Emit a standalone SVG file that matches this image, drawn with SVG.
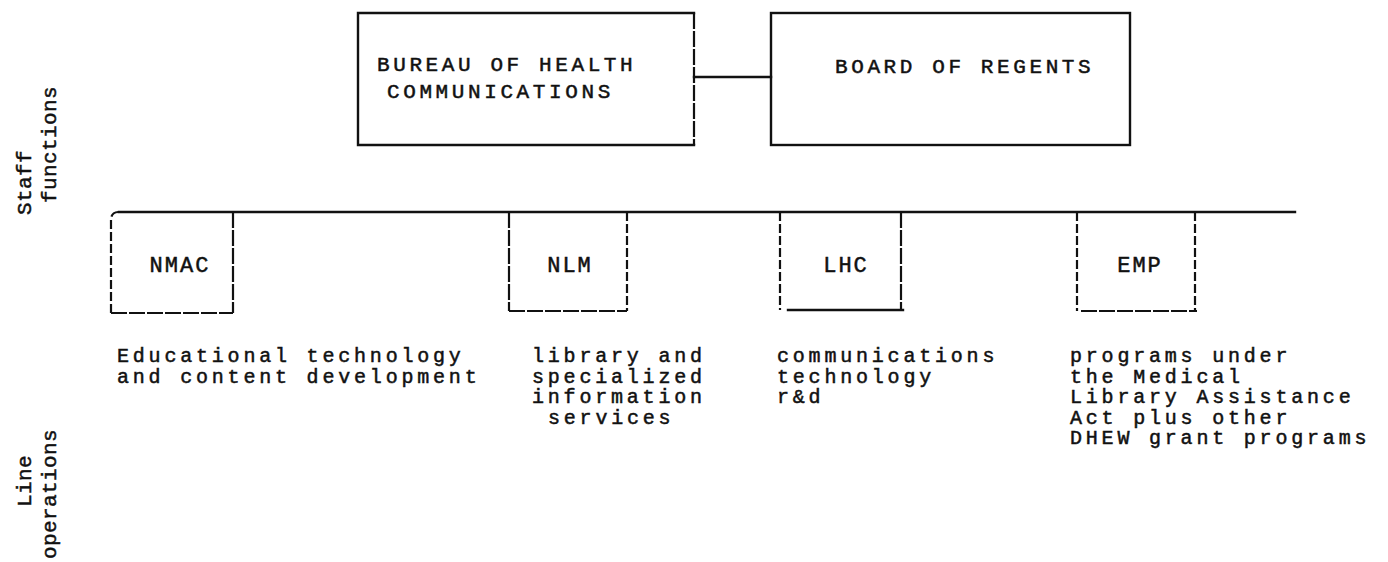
<svg xmlns="http://www.w3.org/2000/svg" width="1388" height="562" viewBox="0 0 1388 562">
<style>
  .ln{fill:none;stroke:#111;stroke-width:2.4;stroke-linecap:square}
  .ds{fill:none;stroke:#111;stroke-width:2.2;stroke-dasharray:9 3}
  .ds2{fill:none;stroke:#111;stroke-width:2.2;stroke-dasharray:16 2}
  .t{font-family:"Liberation Mono","DejaVu Sans Mono",monospace;fill:#111;stroke:#111;stroke-width:0.5px}
  .top{font-size:21px;letter-spacing:3.6px}
  .lab{font-size:22px;letter-spacing:2px;text-anchor:middle}
  .desc{font-size:20px;letter-spacing:3.8px}
  .side{font-size:21px;letter-spacing:0.4px}
</style>
<rect width="1388" height="562" fill="#fff"/>

<g id="connectors">
  <line class="ln" x1="694" y1="77" x2="771" y2="77"/>
  <line class="ln" x1="119" y1="212" x2="1295" y2="212"/>
</g>

<g id="bureau">
  <path class="ln" d="M694,13 H358 V145 H694"/>
  <line class="ds2" x1="694" y1="13" x2="694" y2="145"/>
  <text class="t top" x="377" y="71">BUREAU OF HEALTH</text>
  <text class="t top" x="387" y="98">COMMUNICATIONS</text>
</g>

<g id="regents">
  <rect class="ln" x="771" y="13" width="359" height="132"/>
  <text class="t top" x="835" y="73">BOARD OF REGENTS</text>
</g>

<g id="nmac">
  <path class="ds" d="M111,313 V220 Q111,212 119,212"/>
  <line class="ds2" x1="233" y1="212" x2="233" y2="313"/>
  <line class="ds2" x1="111" y1="313" x2="233" y2="313"/>
  <text class="t lab" x="180" y="272">NMAC</text>
</g>

<g id="nlm">
  <line class="ds2" x1="509" y1="212" x2="509" y2="311"/>
  <line class="ds" x1="627" y1="212" x2="627" y2="311"/>
  <line class="ds2" x1="509" y1="311" x2="627" y2="311"/>
  <text class="t lab" x="570" y="272">NLM</text>
</g>

<g id="lhc">
  <line class="ds" x1="780" y1="212" x2="780" y2="310"/>
  <line class="ds2" x1="901" y1="212" x2="901" y2="310"/>
  <line class="ln" x1="788" y1="310" x2="903" y2="310"/>
  <text class="t lab" x="846" y="272">LHC</text>
</g>

<g id="emp">
  <line class="ds" x1="1077" y1="212" x2="1077" y2="311"/>
  <line class="ds" x1="1195" y1="212" x2="1195" y2="311"/>
  <line class="ds2" x1="1081" y1="311" x2="1197" y2="311"/>
  <text class="t lab" x="1140" y="272">EMP</text>
</g>

<g id="desc-nmac">
  <text class="t desc" x="117" y="362">Educational technology</text>
  <text class="t desc" x="117" y="382.5">and content development</text>
</g>
<g id="desc-nlm">
  <text class="t desc" x="532" y="362">library and</text>
  <text class="t desc" x="532" y="382.5">specialized</text>
  <text class="t desc" x="532" y="403">information</text>
  <text class="t desc" x="548" y="423.5">services</text>
</g>
<g id="desc-lhc">
  <text class="t desc" x="777" y="362">communications</text>
  <text class="t desc" x="777" y="382.5">technology</text>
  <text class="t desc" x="777" y="403">r&amp;d</text>
</g>
<g id="desc-emp">
  <text class="t desc" x="1070" y="362">programs under</text>
  <text class="t desc" x="1070" y="382.5">the Medical</text>
  <text class="t desc" x="1070" y="403">Library Assistance</text>
  <text class="t desc" x="1070" y="423.5">Act plus other</text>
  <text class="t desc" x="1070" y="444">DHEW grant programs</text>
</g>

<g id="side-labels">
  <text class="t side" transform="translate(31,215) rotate(-90)">Staff</text>
  <text class="t side" transform="translate(56,203) rotate(-90)">functions</text>
  <text class="t side" transform="translate(31,507) rotate(-90)">Line</text>
  <text class="t side" transform="translate(56,559) rotate(-90)">operations</text>
</g>
</svg>
